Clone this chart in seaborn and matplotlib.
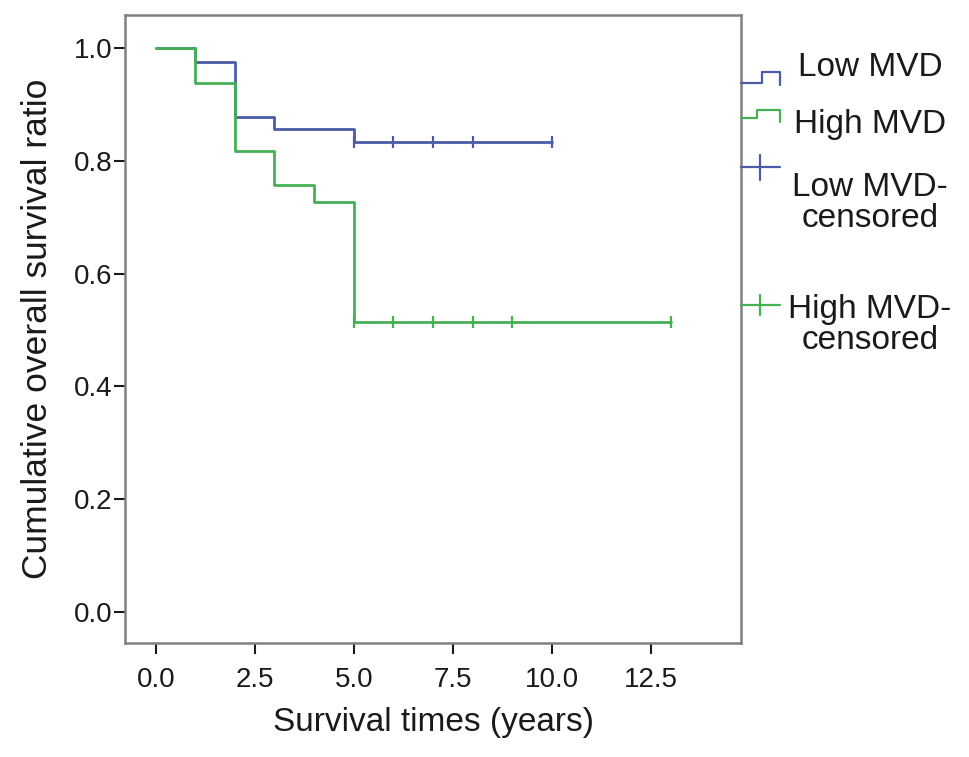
import pandas as pd
import matplotlib
matplotlib.use("Agg")
import matplotlib.pyplot as plt
import seaborn as sns
from matplotlib.lines import Line2D

# Kaplan-Meier step values
low_times = [0, 1, 2, 3, 5, 10]
low_surv = [1.0, 0.976, 0.878, 0.857, 0.833, 0.833]
high_times = [0, 1, 2, 3, 4, 5, 13]
high_surv = [1.0, 0.939, 0.818, 0.758, 0.727, 0.515, 0.515]

# censored observations
low_cens_times = [5, 6, 7, 8, 10]
low_cens_surv = [0.833, 0.833, 0.833, 0.833, 0.833]
high_cens_times = [5, 6, 7, 8, 9, 13]
high_cens_surv = [0.515, 0.515, 0.515, 0.515, 0.515, 0.515]

groups = ['Low MVD', 'High MVD']
colors = {'Low MVD': '#4b5ba8', 'High MVD': '#45b155'}
x_ticks = [0.0, 2.5, 5.0, 7.5, 10.0, 12.5]
y_ticks = [0.0, 0.2, 0.4, 0.6, 0.8, 1.0]

curves = pd.concat([
    pd.DataFrame({'Time': low_times, 'Survival': low_surv, 'Group': 'Low MVD'}),
    pd.DataFrame({'Time': high_times, 'Survival': high_surv, 'Group': 'High MVD'}),
], ignore_index=True)
censored = pd.concat([
    pd.DataFrame({'Time': low_cens_times, 'Survival': low_cens_surv, 'Group': 'Low MVD'}),
    pd.DataFrame({'Time': high_cens_times, 'Survival': high_cens_surv, 'Group': 'High MVD'}),
], ignore_index=True)

sns.set_style("white")
plt.rcParams['font.family'] = ['Liberation Sans', 'DejaVu Sans']

W, H = 969, 757
fig = plt.figure(figsize=(W / 100, H / 100), dpi=100)
ax = fig.add_axes([125 / W, 1 - 643 / H, (741 - 125) / W, (643 - 15) / H])

sns.lineplot(data=curves, x='Time', y='Survival', hue='Group', hue_order=groups,
             palette=colors, estimator=None, sort=False, drawstyle='steps-post',
             linewidth=2.0, legend=False, ax=ax)
for g in groups:
    sub = censored[censored['Group'] == g]
    ax.plot(sub['Time'], sub['Survival'], linestyle='none', marker='|',
            markersize=8, markeredgewidth=1.6, color=colors[g])

ax.set_xlim(-0.775, 14.78)
ax.set_ylim(-0.0556, 1.059)
ax.set_xticks(x_ticks)
ax.set_xticklabels([f"{t:.1f}" for t in x_ticks])
ax.set_yticks(y_ticks)
ax.set_yticklabels([f"{t:.1f}" for t in y_ticks])
ax.tick_params(axis='both', labelsize=20, colors='#1a1a1a', width=1.5,
               length=8, direction='out', bottom=True, left=True)
ax.tick_params(axis='x', pad=9)
ax.tick_params(axis='y', pad=1)
for t in ax.get_xticklines() + ax.get_yticklines():
    t.set_color('#555555')
for s in ax.spines.values():
    s.set_color('#808080')
    s.set_linewidth(1.8)

ax.set_xlabel("Survival times (years)", fontsize=24, color='#1a1a1a', labelpad=10)
ax.set_ylabel("Cumulative overall survival ratio", fontsize=25.5, color='#1a1a1a', labelpad=14)


# legend drawn by hand at the right of the plot box (pixel positions)
def px(x, y):
    return x / W, 1 - y / H


def icon(points, color):
    xs, ys = zip(*[px(x, y) for x, y in points])
    fig.add_artist(Line2D(xs, ys, color=color, linewidth=1.6, transform=fig.transFigure))


icon([(741, 83), (762, 83), (762, 72), (780, 72), (780, 85)], colors['Low MVD'])
icon([(741, 118), (757, 118), (757, 110), (780, 110), (780, 122)], colors['High MVD'])
icon([(741, 167), (780, 167)], colors['Low MVD'])
icon([(760, 155), (760, 180)], colors['Low MVD'])
icon([(741, 305), (780, 305)], colors['High MVD'])
icon([(760, 295), (760, 315)], colors['High MVD'])

labels = [("Low MVD", 68), ("High MVD", 125), ("Low MVD-\ncensored", 203), ("High MVD-\ncensored", 325)]
for text, yy in labels:
    fx, fy = px(870, yy)
    fig.text(fx, fy, text, fontsize=24, ha='center', va='center', ma='center',
             linespacing=1.0, color='#1a1a1a')

fig.savefig("out.png", dpi=100)
